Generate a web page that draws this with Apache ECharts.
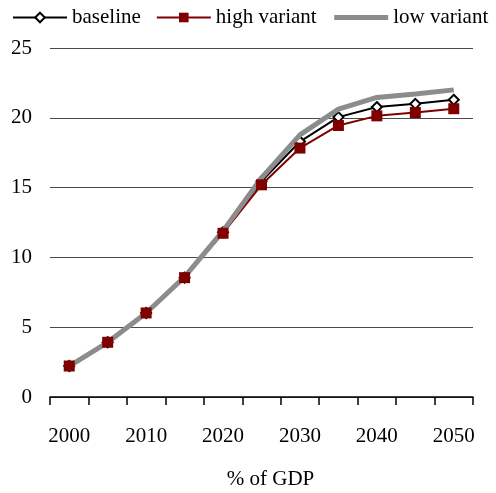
<!DOCTYPE html>
<html><head><meta charset="utf-8">
<script src="https://cdn.jsdelivr.net/npm/echarts@6/dist/echarts.min.js"></script>
<style>html,body{margin:0;padding:0;background:#fff}#c{width:496px;height:493px}</style>
</head><body><div id="c"></div>
<script>
const years = ['2000','2005','2010','2015','2020','2025','2030','2035','2040','2045','2050'];
const baseline = [2.22, 3.92, 6.02, 8.55, 11.8, 15.45, 18.3, 20.05, 20.77, 21.0, 21.29];
const highVariant = [2.22, 3.92, 6.02, 8.55, 11.73, 15.2, 17.83, 19.45, 20.14, 20.38, 20.65];
const lowVariant = [2.22, 3.92, 6.02, 8.6, 11.9, 15.7, 18.78, 20.62, 21.46, 21.7, 22.0];
const yTicks = [0, 5, 10, 15, 20, 25];
const font = '"Liberation Serif", "Times New Roman", serif';

const chart = echarts.init(document.getElementById('c'));
chart.setOption({
  animation: false,
  textStyle: {fontFamily: font, color: '#000'},
  legend: {
    left: 12, top: 7, padding: 0, width: 484, itemWidth: 54, itemHeight: 12, itemGap: 15,
    textStyle: {fontFamily: font, fontSize: 21, color: '#000'},
    data: ['baseline', 'high variant', {name: 'low variant', itemStyle: {opacity: 0}, lineStyle: {width: 5, color: '#8c8c8c'}}]
  },
  grid: {left: 50, right: 23, top: 48, bottom: 96, containLabel: false, outerBoundsMode: 'none'},
  xAxis: {
    type: 'category', data: years, boundaryGap: true,
    name: '% of GDP', nameLocation: 'middle', nameGap: 72,
    nameTextStyle: {fontFamily: font, fontSize: 21, color: '#000', padding: [0,0,0,18]},
    axisLine: {lineStyle: {color: '#000', width: 1.5}},
    axisTick: {show: true, length: 8, interval: 0, lineStyle: {color: '#000', width: 1.5}},
    axisLabel: {interval: 1, margin: 29, fontFamily: font, fontSize: 21, color: '#000'},
    splitLine: {show: false}
  },
  yAxis: {
    type: 'value', min: yTicks[0], max: yTicks[yTicks.length-1], interval: 5,
    axisLine: {show: false}, axisTick: {show: false},
    axisLabel: {margin: 18, fontFamily: font, fontSize: 21, color: '#000'},
    splitLine: {lineStyle: {color: '#4a4a4a', width: 1}}
  },
  series: [
    {
      name: 'baseline', type: 'line', data: baseline, z: 2,
      symbol: 'diamond', symbolSize: 10, showAllSymbol: true,
      lineStyle: {color: '#000', width: 2},
      itemStyle: {color: '#fff', borderColor: '#000', borderWidth: 2}
    },
    {
      name: 'high variant', type: 'line', data: highVariant, z: 3,
      symbol: 'rect', symbolSize: 11, showAllSymbol: true,
      lineStyle: {color: '#800000', width: 2},
      itemStyle: {color: '#800000'}
    },
    {
      name: 'low variant', type: 'line', data: lowVariant, z: 3,
      symbol: 'none', showSymbol: false,
      lineStyle: {color: '#8c8c8c', width: 5},
      itemStyle: {color: '#8c8c8c'}
    }
  ]
});
</script></body></html>
